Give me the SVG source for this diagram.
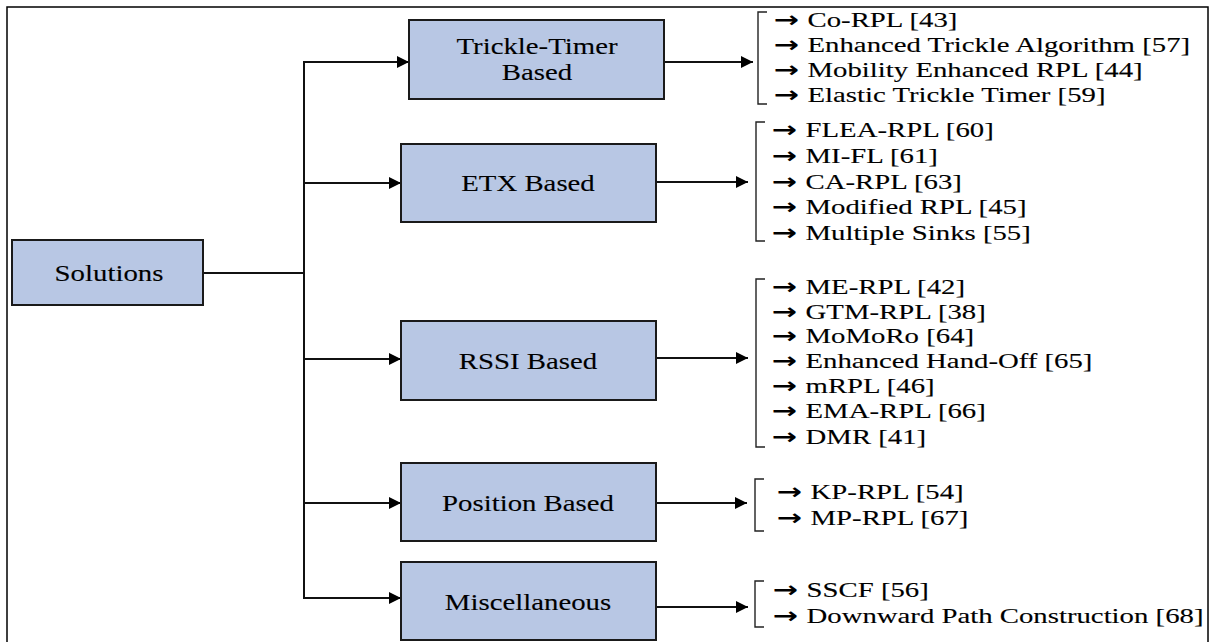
<svg xmlns="http://www.w3.org/2000/svg" width="1213" height="642" viewBox="0 0 1213 642">
<defs>
<style>
.frame{fill:#fff;stroke:#000;stroke-width:1.5}
.box{fill:#b8c7e4;stroke:#1a1a1a;stroke-width:2}
.t{font-family:"Liberation Serif","Times New Roman",serif;font-size:21px;fill:#000;stroke:#000;stroke-width:0.12}
.b{font-size:24px}
.c{text-anchor:middle}
.ar{font-family:"DejaVu Sans",sans-serif;font-size:22px;font-weight:bold;stroke-width:0}
.ln{fill:none;stroke:#111;stroke-width:2}
.br{fill:none;stroke:#222;stroke-width:1.4}
</style>
<marker id="ah" viewBox="0 0 10 10" refX="10" refY="5" markerWidth="7.5" markerHeight="6" markerUnits="strokeWidth" orient="auto">
<path d="M0,0 L10,5 L0,10 Z" fill="#000"/>
</marker>
</defs>
<rect class="frame" x="7" y="7" width="1201" height="645"/>

<g id="connectors">
<path class="ln" d="M203,273 H304"/>
<path class="ln" d="M304,62 V598"/>
<path class="ln" d="M303,62 H409" marker-end="url(#ah)"/>
<path class="ln" d="M303,183 H401" marker-end="url(#ah)"/>
<path class="ln" d="M303,359 H401" marker-end="url(#ah)"/>
<path class="ln" d="M303,503 H401" marker-end="url(#ah)"/>
<path class="ln" d="M303,598 H401" marker-end="url(#ah)"/>
<path class="ln" d="M664,62 H753" marker-end="url(#ah)"/>
<path class="ln" d="M656,182 H748" marker-end="url(#ah)"/>
<path class="ln" d="M656,358 H748" marker-end="url(#ah)"/>
<path class="ln" d="M656,503 H747" marker-end="url(#ah)"/>
<path class="ln" d="M656,607 H748" marker-end="url(#ah)"/>
</g>

<g id="solutions">
<rect class="box" x="12" y="240" width="191" height="65"/>
<text class="t b c" transform="translate(109,281) scale(1.2,1)">Solutions</text>
</g>

<g id="trickle">
<rect class="box" x="409" y="20" width="255" height="79"/>
<text class="t b c" transform="translate(537,54) scale(1.2,1)">Trickle-Timer</text>
<text class="t b c" transform="translate(537,80) scale(1.2,1)">Based</text>
</g>

<g id="etx">
<rect class="box" x="401" y="144" width="255" height="78"/>
<text class="t b c" transform="translate(528,191) scale(1.2,1)">ETX Based</text>
</g>

<g id="rssi">
<rect class="box" x="401" y="321" width="255" height="79"/>
<text class="t b c" transform="translate(528,369) scale(1.2,1)">RSSI Based</text>
</g>

<g id="position">
<rect class="box" x="401" y="463" width="255" height="78"/>
<text class="t b c" transform="translate(528,511) scale(1.2,1)">Position Based</text>
</g>

<g id="misc">
<rect class="box" x="401" y="562" width="255" height="78"/>
<text class="t b c" transform="translate(528,610) scale(1.2,1)">Miscellaneous</text>
</g>

<g id="trickle-list">
<path class="br" d="M767,12 H758 V104 H767"/>
<text class="t" transform="translate(774,27) scale(1.37,1)"><tspan class="ar">→ </tspan><tspan x="24.5">Co-RPL [43]</tspan></text>
<text class="t" transform="translate(774,52) scale(1.37,1)"><tspan class="ar">→ </tspan><tspan x="24.5">Enhanced Trickle Algorithm [57]</tspan></text>
<text class="t" transform="translate(774,77) scale(1.37,1)"><tspan class="ar">→ </tspan><tspan x="24.5">Mobility Enhanced RPL [44]</tspan></text>
<text class="t" transform="translate(774,102) scale(1.37,1)"><tspan class="ar">→ </tspan><tspan x="24.5">Elastic Trickle Timer [59]</tspan></text>
</g>

<g id="etx-list">
<path class="br" d="M765,122 H756 V241 H765"/>
<text class="t" transform="translate(772,137) scale(1.37,1)"><tspan class="ar">→ </tspan><tspan x="24.5">FLEA-RPL [60]</tspan></text>
<text class="t" transform="translate(772,163) scale(1.37,1)"><tspan class="ar">→ </tspan><tspan x="24.5">MI-FL [61]</tspan></text>
<text class="t" transform="translate(772,189) scale(1.37,1)"><tspan class="ar">→ </tspan><tspan x="24.5">CA-RPL [63]</tspan></text>
<text class="t" transform="translate(772,214) scale(1.37,1)"><tspan class="ar">→ </tspan><tspan x="24.5">Modified RPL [45]</tspan></text>
<text class="t" transform="translate(772,240) scale(1.37,1)"><tspan class="ar">→ </tspan><tspan x="24.5">Multiple Sinks [55]</tspan></text>
</g>

<g id="rssi-list">
<path class="br" d="M765,279 H756 V447 H765"/>
<text class="t" transform="translate(772,294) scale(1.37,1)"><tspan class="ar">→ </tspan><tspan x="24.5">ME-RPL [42]</tspan></text>
<text class="t" transform="translate(772,319) scale(1.37,1)"><tspan class="ar">→ </tspan><tspan x="24.5">GTM-RPL [38]</tspan></text>
<text class="t" transform="translate(772,343) scale(1.37,1)"><tspan class="ar">→ </tspan><tspan x="24.5">MoMoRo [64]</tspan></text>
<text class="t" transform="translate(772,368) scale(1.37,1)"><tspan class="ar">→ </tspan><tspan x="24.5">Enhanced Hand-Off [65]</tspan></text>
<text class="t" transform="translate(772,393) scale(1.37,1)"><tspan class="ar">→ </tspan><tspan x="24.5">mRPL [46]</tspan></text>
<text class="t" transform="translate(772,418) scale(1.37,1)"><tspan class="ar">→ </tspan><tspan x="24.5">EMA-RPL [66]</tspan></text>
<text class="t" transform="translate(772,444) scale(1.37,1)"><tspan class="ar">→ </tspan><tspan x="24.5">DMR [41]</tspan></text>
</g>

<g id="position-list">
<path class="br" d="M764,479 H755 V531 H764"/>
<text class="t" transform="translate(777,499) scale(1.37,1)"><tspan class="ar">→ </tspan><tspan x="24.5">KP-RPL [54]</tspan></text>
<text class="t" transform="translate(777,525) scale(1.37,1)"><tspan class="ar">→ </tspan><tspan x="24.5">MP-RPL [67]</tspan></text>
</g>

<g id="misc-list">
<path class="br" d="M764,581 H755 V627 H764"/>
<text class="t" transform="translate(773,597) scale(1.37,1)"><tspan class="ar">→ </tspan><tspan x="24.5">SSCF [56]</tspan></text>
<text class="t" transform="translate(773,623) scale(1.37,1)"><tspan class="ar">→ </tspan><tspan x="24.5">Downward Path Construction [68]</tspan></text>
</g>
</svg>
